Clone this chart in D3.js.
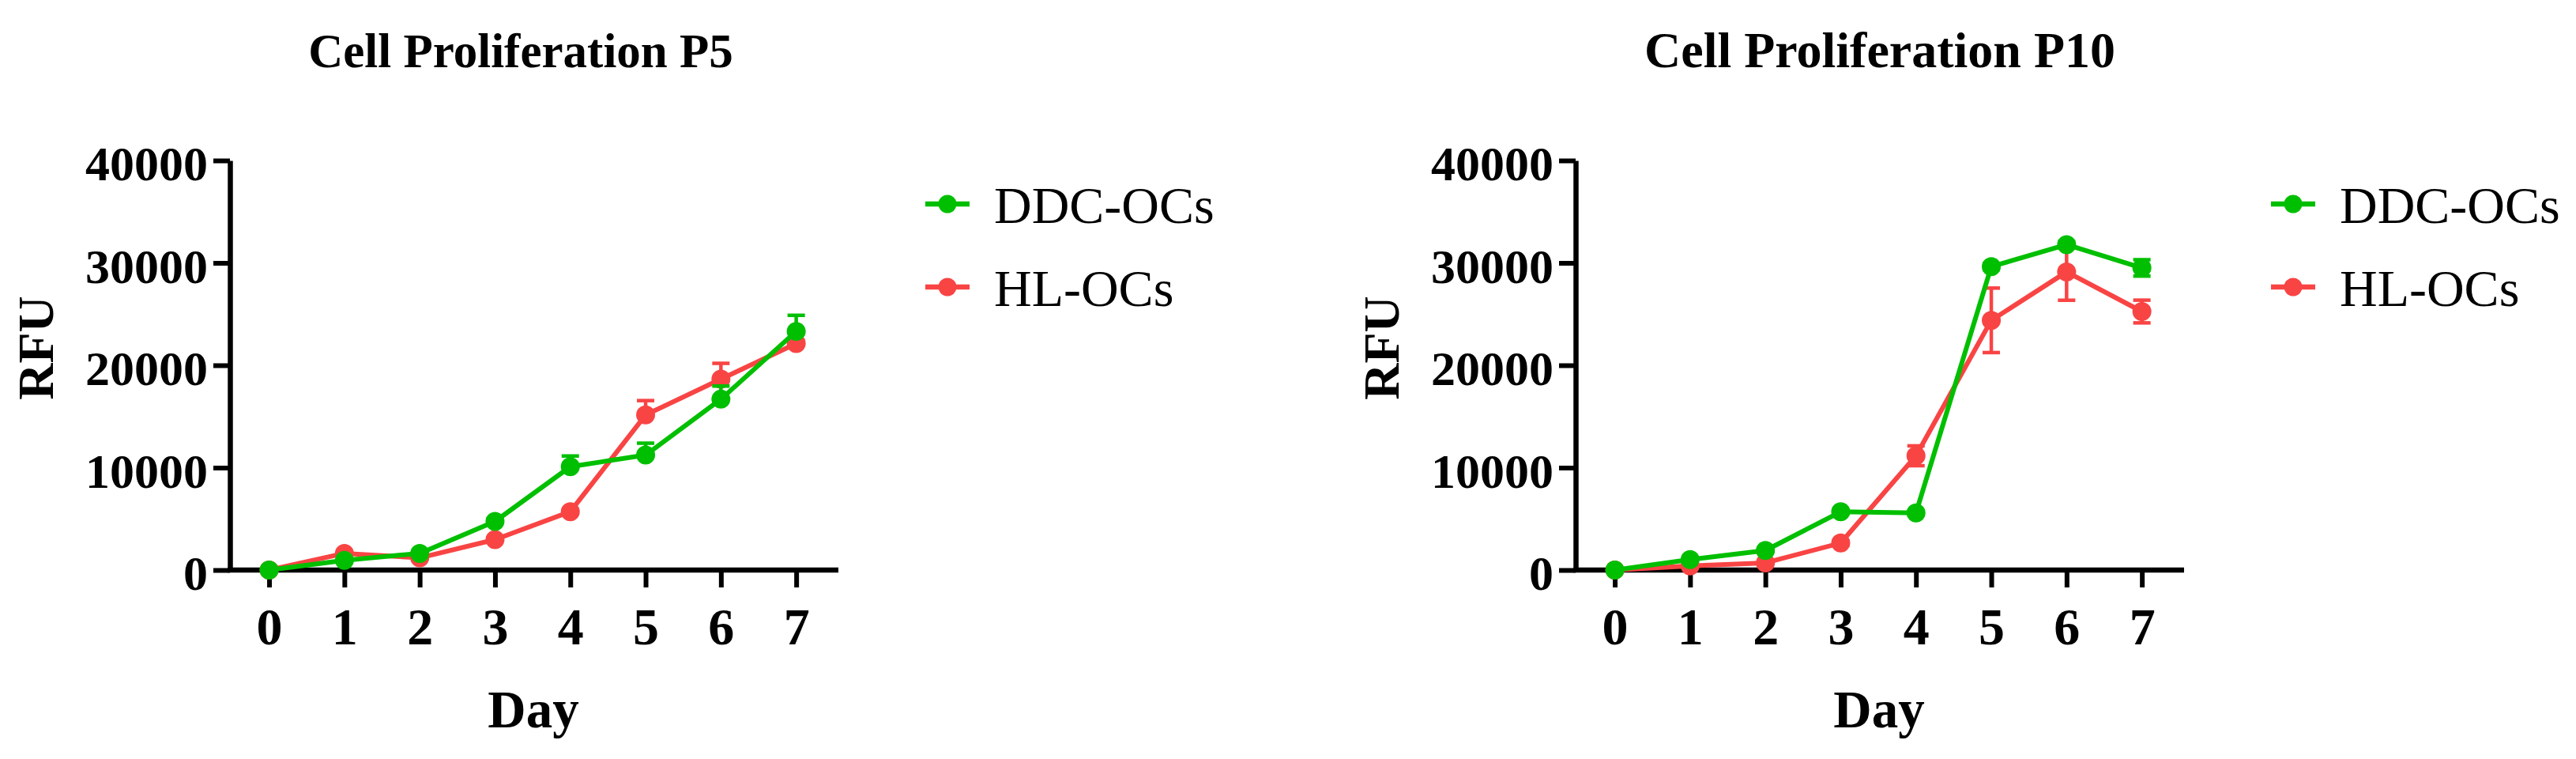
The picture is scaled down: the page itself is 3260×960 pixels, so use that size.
<!DOCTYPE html>
<html>
<head>
<meta charset="utf-8">
<script src="https://cdn.jsdelivr.net/npm/d3@7"></script>
<style>
  html, body { margin: 0; padding: 0; background: #fff; }
  svg { display: block; }
  text { font-family: "Liberation Serif", "Times New Roman", serif; fill: #000; }
</style>
</head>
<body>
<svg id="chart" width="3260" height="960"></svg>
<script>
// ---- data ----
const days = [0, 1, 2, 3, 4, 5, 6, 7];
const yTicks = [0, 10000, 20000, 30000, 40000];
const seriesNames = ["DDC-OCs", "HL-OCs"];
const titles = ["Cell Proliferation P5", "Cell Proliferation P10"];

const p5_ddc     = [0, 950, 1630, 4750, 10100, 11230, 16690, 23310];
const p5_ddc_err = [0, 150, 150, 250, 1040, 1160, 1280, 1570];
const p5_hl      = [0, 1630, 1190, 2970, 5700, 15150, 18650, 22120];
const p5_hl_err  = [0, 200, 150, 150, 200, 1400, 1540, 300];

const p10_ddc     = [0, 1030, 1910, 5690, 5580, 29640, 31780, 29510];
const p10_ddc_err = [0, 100, 150, 200, 200, 300, 300, 800];
const p10_hl      = [0, 400, 700, 2640, 11160, 24390, 29120, 25250];
const p10_hl_err  = [0, 100, 100, 200, 970, 3150, 2770, 1110];

// ---- styling ----
const colors = { "DDC-OCs": "#00bf00", "HL-OCs": "#f94444" };

const svg = d3.select("#chart");

const panels = [
  { dx: 0,    title: titles[0], titleX: 659, titleSize: 61, both: false,
    series: [
      { name: seriesNames[1], vals: p5_hl,  err: p5_hl_err },
      { name: seriesNames[0], vals: p5_ddc, err: p5_ddc_err }
    ] },
  { dx: 1703, title: titles[1], titleX: 676, titleSize: 64, both: true,
    series: [
      { name: seriesNames[1], vals: p10_hl,  err: p10_hl_err },
      { name: seriesNames[0], vals: p10_ddc, err: p10_ddc_err }
    ] }
];

const x = d3.scaleLinear().domain([-0.52, 7.56]).range([291, 1061]);
const y = d3.scaleLinear().domain([0, 40000]).range([721, 203]);

panels.forEach(p => {
  const g = svg.append("g").attr("transform", `translate(${p.dx},0)`);

  // title
  g.append("text")
    .attr("x", p.titleX).attr("y", 85)
    .attr("text-anchor", "middle")
    .style("font-size", p.titleSize + "px").style("font-weight", "bold")
    .text(p.title);

  // x axis
  const xAxis = d3.axisBottom(x).tickValues(days).tickSize(22).tickSizeOuter(0).tickFormat(d3.format("d"));
  const gx = g.append("g").attr("transform", `translate(0,${y(0)})`).call(xAxis);
  gx.select(".domain").attr("stroke", "#000").attr("stroke-width", 6.5);
  gx.selectAll(".tick line").attr("stroke", "#000").attr("stroke-width", 6);
  gx.selectAll(".tick text")
    .attr("y", 94).attr("dy", null)
    .style("font-size", "66px").style("font-weight", "bold")
    .attr("fill", "#000");

  // y axis
  const yAxis = d3.axisLeft(y).tickValues(yTicks).tickSize(21).tickSizeOuter(0).tickPadding(7).tickFormat(d3.format("d"));
  const gy = g.append("g").attr("transform", `translate(${x.range()[0]},0)`).call(yAxis);
  gy.select(".domain").attr("stroke", "#000").attr("stroke-width", 6.5);
  gy.selectAll(".tick line").attr("stroke", "#000").attr("stroke-width", 6);
  gy.selectAll(".tick text")
    .attr("dy", "0.4em")
    .style("font-size", "62px").style("font-weight", "bold")
    .attr("fill", "#000");
  // make x-axis line reach the y axis
  gx.select(".domain").attr("d", `M${x.range()[0] - 3},0H${x.range()[1]}`);

  // axis titles
  g.append("text")
    .attr("transform", `translate(67,440) rotate(-90)`)
    .attr("text-anchor", "middle")
    .style("font-size", "64px").style("font-weight", "bold")
    .text("RFU");
  g.append("text")
    .attr("x", 675).attr("y", 920)
    .attr("text-anchor", "middle")
    .style("font-size", "67px").style("font-weight", "bold")
    .text("Day");

  // series
  const line = d3.line().x((d, i) => x(days[i])).y(d => y(d));
  p.series.forEach(s => {
    const c = colors[s.name];
    const sg = g.append("g");
    // error bars
    const eb = sg.selectAll(".eb").data(days).enter().append("g");
    eb.append("line")
      .attr("x1", d => x(d)).attr("x2", d => x(d))
      .attr("y1", (d, i) => y(s.vals[i] + s.err[i]))
      .attr("y2", (d, i) => p.both ? y(s.vals[i] - s.err[i]) : y(s.vals[i]))
      .attr("stroke", c).attr("stroke-width", 4.5);
    eb.append("line")
      .attr("x1", d => x(d) - 11).attr("x2", d => x(d) + 11)
      .attr("y1", (d, i) => y(s.vals[i] + s.err[i]))
      .attr("y2", (d, i) => y(s.vals[i] + s.err[i]))
      .attr("stroke", c).attr("stroke-width", 4.5);
    if (p.both) {
      eb.append("line")
        .attr("x1", d => x(d) - 11).attr("x2", d => x(d) + 11)
        .attr("y1", (d, i) => y(s.vals[i] - s.err[i]))
        .attr("y2", (d, i) => y(s.vals[i] - s.err[i]))
        .attr("stroke", c).attr("stroke-width", 4.5);
    }
    sg.append("path")
      .attr("d", line(s.vals))
      .attr("fill", "none").attr("stroke", c).attr("stroke-width", 6)
      .attr("stroke-linejoin", "round");
    sg.selectAll("circle").data(s.vals).enter().append("circle")
      .attr("cx", (d, i) => x(days[i])).attr("cy", d => y(d))
      .attr("r", 12).attr("fill", c);
  });

  // legend
  const leg = g.append("g");
  seriesNames.forEach((name, i) => {
    const ly = 258 + i * 105;
    const c = colors[name];
    leg.append("line").attr("x1", 1171).attr("x2", 1227).attr("y1", ly).attr("y2", ly)
      .attr("stroke", c).attr("stroke-width", 6.5);
    leg.append("circle").attr("cx", 1199).attr("cy", ly).attr("r", 11.5).attr("fill", c);
    leg.append("text").attr("x", 1258).attr("y", ly + 24)
      .style("font-size", "66px")
      .text(name);
  });
});
</script>
</body>
</html>
